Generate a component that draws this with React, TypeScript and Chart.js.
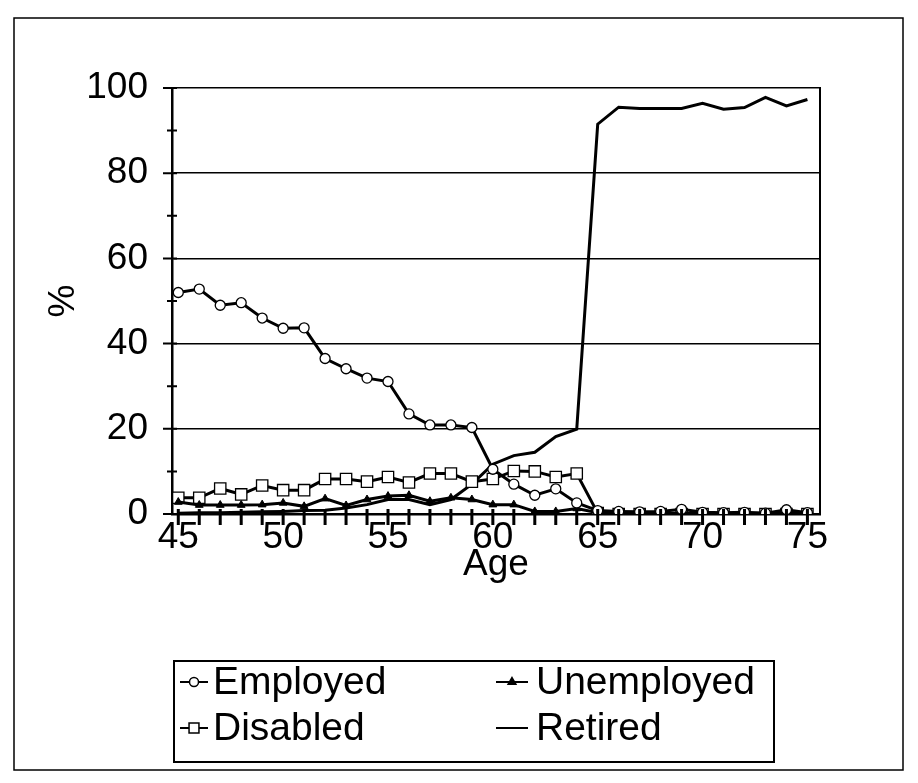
import React, { useEffect, useRef } from 'react';
import { Chart, registerables } from 'chart.js';

Chart.register(...registerables);

const ages = [45, 46, 47, 48, 49, 50, 51, 52, 53, 54, 55, 56, 57, 58, 59, 60, 61, 62, 63, 64, 65, 66, 67, 68, 69, 70, 71, 72, 73, 74, 75];
const employed = [52.0, 52.8, 49.0, 49.6, 46.0, 43.6, 43.7, 36.5, 34.1, 31.9, 31.1, 23.5, 20.9, 20.9, 20.3, 10.5, 7.0, 4.4, 5.9, 2.6, 0.8, 0.6, 0.5, 0.6, 1.1, 0.4, 0.3, 0.4, 0.2, 1.0, 0.3];
const unemployed = [2.8, 2.1, 2.1, 2.1, 2.2, 2.6, 1.8, 3.6, 2.0, 3.4, 4.2, 4.4, 3.0, 3.8, 3.4, 2.2, 2.2, 0.6, 0.6, 1.3, 0.3, 0.2, 0.2, 0.2, 0.2, 0.2, 0.2, 0.2, 0.2, 0.2, 0.2];
const disabled = [3.8, 3.8, 6.0, 4.6, 6.7, 5.6, 5.6, 8.2, 8.2, 7.6, 8.7, 7.4, 9.5, 9.5, 7.6, 8.2, 10.1, 10.0, 8.7, 9.5, 0.2, 0, 0, 0, 0, 0, 0, 0, 0, 0, 0];
const retired = [0.2, 0.3, 0.3, 0.4, 0.5, 0.6, 0.8, 0.9, 1.4, 2.2, 3.4, 3.4, 2.2, 3.4, 7.0, 11.7, 13.7, 14.5, 18.2, 19.9, 91.5, 95.5, 95.2, 95.2, 95.2, 96.4, 95.0, 95.4, 97.8, 95.8, 97.3];

const xTickLabels = [45, 50, 55, 60, 65, 70, 75];
const yTickLabels = [0, 20, 40, 60, 80, 100];
const yMinorTicks = [0, 10, 20, 30, 40, 50, 60, 70, 80, 90, 100];

const FONT = '"Liberation Sans", Arial, Helvetica, sans-serif';
const FS = 37;
const LFS = 39;

function drawMarker(ctx: CanvasRenderingContext2D, style: string, x: number, y: number, r: number) {
  ctx.beginPath();
  if (style === 'circle') {
    ctx.arc(x, y, r, 0, Math.PI * 2);
    ctx.fillStyle = '#fff';
    ctx.fill();
    ctx.stroke();
  } else if (style === 'rect') {
    const s = r * Math.SQRT1_2;
    ctx.rect(x - s, y - s, 2 * s, 2 * s);
    ctx.fillStyle = '#fff';
    ctx.fill();
    ctx.stroke();
  } else if (style === 'triangle') {
    const rot = 0;
    ctx.moveTo(x + Math.sin(rot) * r, y - Math.cos(rot) * r);
    ctx.lineTo(x + Math.sin(rot + 2.0944) * r, y - Math.cos(rot + 2.0944) * r);
    ctx.lineTo(x + Math.sin(rot + 4.1888) * r, y - Math.cos(rot + 4.1888) * r);
    ctx.closePath();
    ctx.fillStyle = '#000';
    ctx.fill();
    ctx.stroke();
  }
}

const decorPlugin = {
  id: 'decor',
  afterDraw(chart: any) {
    const ctx: CanvasRenderingContext2D = chart.ctx;
    const { left, right, top, bottom } = chart.chartArea;
    const xs = chart.scales.x;
    const ys = chart.scales.y;
    ctx.save();
    ctx.strokeStyle = '#000';
    ctx.lineCap = 'butt';
    // right border of plot
    ctx.lineWidth = 2;
    ctx.beginPath();
    ctx.moveTo(right, top - 1);
    ctx.lineTo(right, bottom);
    ctx.stroke();
    // x tick marks at each age
    ctx.lineWidth = 3;
    ctx.beginPath();
    for (const a of ages) {
      const px = xs.getPixelForValue(a);
      ctx.moveTo(px, bottom - 5);
      ctx.lineTo(px, bottom + 11);
    }
    ctx.stroke();
    // y tick marks
    ctx.lineWidth = 2;
    ctx.beginPath();
    for (const v of yMinorTicks) {
      const py = ys.getPixelForValue(v);
      const major = v % 20 === 0;
      ctx.moveTo(left - (major ? 9 : 5), py);
      ctx.lineTo(left + 5, py);
    }
    ctx.stroke();
    // outer frame
    ctx.lineWidth = 1.5;
    ctx.strokeRect(14, 18, 889, 752);
    // legend box
    ctx.lineWidth = 2;
    ctx.strokeRect(174, 661, 600, 101);
    const items = [
      { label: 'Employed', style: 'circle', r: 4.5, x: 180, y: 682, len: 28, gap: 33 },
      { label: 'Unemployed', style: 'triangle', r: 4.5, x: 496, y: 682, len: 32, gap: 40 },
      { label: 'Disabled', style: 'rect', r: 7, x: 180, y: 728, len: 28, gap: 33 },
      { label: 'Retired', style: 'none', r: 0, x: 496, y: 728, len: 32, gap: 40 },
    ];
    ctx.font = `${LFS}px ${FONT}`;
    ctx.textBaseline = 'middle';
    ctx.textAlign = 'left';
    for (const it of items) {
      ctx.strokeStyle = '#000';
      ctx.lineWidth = 2;
      ctx.beginPath();
      ctx.moveTo(it.x, it.y);
      ctx.lineTo(it.x + it.len, it.y);
      ctx.stroke();
      if (it.style !== 'none') {
        ctx.lineWidth = 1.5;
        drawMarker(ctx, it.style, it.x + it.len / 2, it.y, it.r);
      }
      ctx.fillStyle = '#000';
      ctx.fillText(it.label, it.x + it.gap, it.y + 1);
    }
    ctx.restore();
  },
};

export default function App() {
  const ref = useRef<HTMLCanvasElement | null>(null);
  useEffect(() => {
    document.body.style.margin = '0';
    document.body.style.background = '#fff';
    if (!ref.current) return;
    const mk = (vals: number[]) => ages.map((a, i) => ({ x: a, y: vals[i] }));
    const chart = new Chart(ref.current, {
      type: 'line',
      data: {
        datasets: [
          { label: 'Employed', data: mk(employed), borderColor: '#000', borderWidth: 3, pointStyle: 'circle', pointRadius: 5, pointBorderWidth: 1.3, pointBackgroundColor: '#fff', pointBorderColor: '#000', tension: 0 },
          { label: 'Unemployed', data: mk(unemployed), borderColor: '#000', borderWidth: 3, pointStyle: 'triangle', pointRadius: 4.5, pointBorderWidth: 1, pointBackgroundColor: '#000', pointBorderColor: '#000', tension: 0 },
          { label: 'Disabled', data: mk(disabled), borderColor: '#000', borderWidth: 3, pointStyle: 'rect', pointRadius: 8, pointBorderWidth: 1.3, pointBackgroundColor: '#fff', pointBorderColor: '#000', tension: 0 },
          { label: 'Retired', data: mk(retired), borderColor: '#000', borderWidth: 3, pointRadius: 0, tension: 0 },
        ],
      },
      options: {
        animation: false,
        responsive: false,
        maintainAspectRatio: false,
        events: [],
        layout: { padding: { left: 0, top: 88, right: 98, bottom: 194 } },
        plugins: { legend: { display: false }, tooltip: { enabled: false } },
        scales: {
          x: {
            type: 'linear',
            min: 44.7,
            max: 75.6,
            afterBuildTicks: (s: any) => { s.ticks = xTickLabels.map((v) => ({ value: v })); },
            afterFit: (s: any) => { s.height = 75; },
            grid: { display: false, drawTicks: false },
            border: { display: true, color: '#000', width: 2.5 },
            ticks: { color: '#000', padding: 2, maxRotation: 0, autoSkip: false, font: { family: FONT, size: FS } },
            title: { display: true, text: 'Age', color: '#000', font: { family: FONT, size: FS }, padding: { top: 0, bottom: 2 } },
          },
          y: {
            type: 'linear',
            min: 0,
            max: 100,
            afterBuildTicks: (s: any) => { s.ticks = yTickLabels.map((v) => ({ value: v })); },
            afterFit: (s: any) => { s.width = 172; },
            grid: { color: '#000', lineWidth: 1.5, drawTicks: false },
            border: { display: true, color: '#000', width: 2.5 },
            ticks: { color: '#000', padding: 24, font: { family: FONT, size: FS } },
            title: { display: true, text: '%', color: '#000', font: { family: FONT, size: FS }, padding: { top: 42, bottom: 0 } },
          },
        },
      },
      plugins: [decorPlugin],
    });
    return () => chart.destroy();
  }, []);
  return <canvas ref={ref} width={918} height={783} style={{ display: 'block', width: 918, height: 783 }} />;
}
